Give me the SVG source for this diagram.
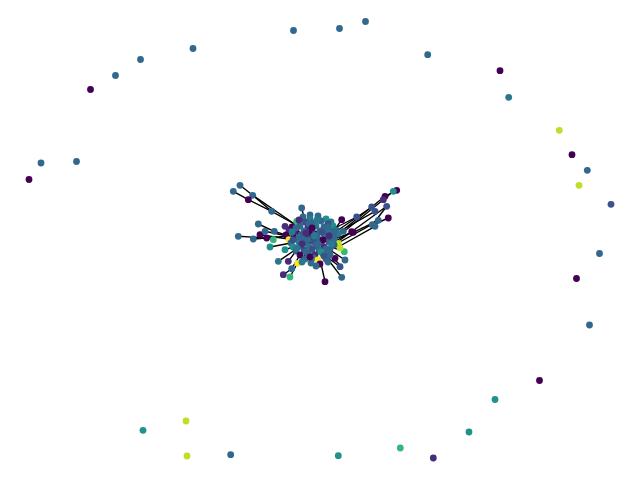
<svg xmlns="http://www.w3.org/2000/svg" width="640" height="480" viewBox="0 0 640 480">
<style>
.e line{stroke:#000;stroke-width:1.4;}
circle{stroke:none}
.c0{fill:#440154}.c1{fill:#472c7a}.c2{fill:#3b518b}.c3{fill:#31688e}.c4{fill:#2a788e}.c5{fill:#21918c}.c6{fill:#35b779}.c7{fill:#6ece58}.c8{fill:#bddf26}.c9{fill:#fde725}
</style>
<rect width="640" height="480" fill="#fff"/>
<g id="edges" class="e">
<line x1="240" y1="185.3" x2="252.7" y2="195.3"/>
<line x1="252.7" y1="195.3" x2="271.7" y2="211.3"/>
<line x1="233.3" y1="191.3" x2="248.3" y2="199.7"/>
<line x1="248.3" y1="199.7" x2="271.7" y2="211.3"/>
<line x1="271.7" y1="211.3" x2="298" y2="226"/>
<line x1="252.7" y1="195.3" x2="296" y2="225"/>
<line x1="238.3" y1="236.3" x2="266.7" y2="238"/>
<line x1="253.3" y1="239" x2="290" y2="236"/>
<line x1="258.3" y1="224" x2="274.3" y2="231.3"/>
<line x1="265" y1="231.3" x2="292" y2="237"/>
<line x1="274.3" y1="231.3" x2="296" y2="238"/>
<line x1="260" y1="234.7" x2="288" y2="239"/>
<line x1="270" y1="247" x2="291" y2="243"/>
<line x1="278.3" y1="261.3" x2="295" y2="250"/>
<line x1="283.3" y1="274.7" x2="291.7" y2="268.7"/>
<line x1="291.7" y1="268.7" x2="300" y2="255"/>
<line x1="290" y1="277" x2="298" y2="262"/>
<line x1="288.3" y1="261.3" x2="296" y2="251"/>
<line x1="285" y1="249.7" x2="293" y2="247"/>
<line x1="285" y1="226.3" x2="296" y2="230"/>
<line x1="301.7" y1="208" x2="305" y2="222"/>
<line x1="310" y1="215" x2="313" y2="230"/>
<line x1="325" y1="281.7" x2="320" y2="259"/>
<line x1="341.7" y1="277.3" x2="327" y2="258"/>
<line x1="340" y1="266.7" x2="323" y2="254"/>
<line x1="343" y1="268" x2="330" y2="255"/>
<line x1="345" y1="260" x2="330" y2="250"/>
<line x1="335" y1="258.3" x2="320" y2="250"/>
<line x1="297.7" y1="263.3" x2="305" y2="255"/>
<line x1="396.7" y1="190.3" x2="385" y2="196.3"/>
<line x1="393.3" y1="191.3" x2="383.3" y2="199.7"/>
<line x1="385" y1="196.3" x2="338" y2="234"/>
<line x1="383.3" y1="199.7" x2="336" y2="238"/>
<line x1="386.7" y1="206.3" x2="336" y2="243"/>
<line x1="371.7" y1="207" x2="331" y2="235"/>
<line x1="375" y1="211.3" x2="336.7" y2="233"/>
<line x1="386.7" y1="206.3" x2="373.3" y2="223.7"/>
<line x1="356.7" y1="217" x2="331" y2="230"/>
<line x1="388.3" y1="218" x2="375" y2="224"/>
<line x1="378.3" y1="220.3" x2="353.3" y2="232.3"/>
<line x1="353.3" y1="232.3" x2="334" y2="239"/>
<line x1="373.3" y1="223.7" x2="338" y2="243"/>
<line x1="375" y1="226.3" x2="340" y2="246"/>
<line x1="341.7" y1="219.7" x2="331" y2="235"/>
<line x1="351.7" y1="231.7" x2="334" y2="242"/>
<line x1="343.3" y1="231.3" x2="326" y2="238"/>
<line x1="344.3" y1="251.7" x2="329" y2="246"/>
<line x1="296" y1="230" x2="326" y2="247"/>
<line x1="304" y1="250" x2="324" y2="227"/>
<line x1="289" y1="231" x2="318" y2="255"/>
<line x1="301" y1="235" x2="336" y2="243"/>
<line x1="294" y1="234" x2="320" y2="231"/>
</g>
<g id="nodes">
<g id="o1"><circle class="c3" cx="293.5" cy="30.5" r="3.4"/></g>
<g id="o2"><circle class="c3" cx="339.5" cy="28.5" r="3.4"/></g>
<g id="o3"><circle class="c3" cx="365.5" cy="21.5" r="3.4"/></g>
<g id="o4"><circle class="c3" cx="193" cy="48.5" r="3.4"/></g>
<g id="o5"><circle class="c3" cx="140.5" cy="59.5" r="3.4"/></g>
<g id="o6"><circle class="c3" cx="115.5" cy="75.5" r="3.4"/></g>
<g id="o7"><circle class="c0" cx="90.5" cy="89.5" r="3.4"/></g>
<g id="o8"><circle class="c3" cx="41" cy="163" r="3.4"/></g>
<g id="o9"><circle class="c3" cx="76.5" cy="161.5" r="3.4"/></g>
<g id="o10"><circle class="c0" cx="29" cy="179.5" r="3.4"/></g>
<g id="o11"><circle class="c3" cx="427.7" cy="54.7" r="3.4"/></g>
<g id="o12"><circle class="c0" cx="500" cy="70.7" r="3.4"/></g>
<g id="o13"><circle class="c4" cx="508.7" cy="97.3" r="3.4"/></g>
<g id="o14"><circle class="c8" cx="559.3" cy="130.3" r="3.4"/></g>
<g id="o15"><circle class="c0" cx="572" cy="154.7" r="3.4"/></g>
<g id="o16"><circle class="c3" cx="587.3" cy="170.3" r="3.4"/></g>
<g id="o17"><circle class="c8" cx="579" cy="185.3" r="3.4"/></g>
<g id="o18"><circle class="c2" cx="611" cy="204.3" r="3.4"/></g>
<g id="o19"><circle class="c3" cx="599.5" cy="253.5" r="3.4"/></g>
<g id="o20"><circle class="c0" cx="576.5" cy="278.5" r="3.4"/></g>
<g id="o21"><circle class="c3" cx="589.5" cy="325" r="3.4"/></g>
<g id="o22"><circle class="c0" cx="539.5" cy="380.5" r="3.4"/></g>
<g id="o23"><circle class="c5" cx="495" cy="399.5" r="3.4"/></g>
<g id="o24"><circle class="c5" cx="469" cy="432" r="3.4"/></g>
<g id="o25"><circle class="c1" cx="433.3" cy="458" r="3.4"/></g>
<g id="o26"><circle class="c6" cx="400.3" cy="448" r="3.4"/></g>
<g id="o27"><circle class="c5" cx="338.3" cy="455.7" r="3.4"/></g>
<g id="o28"><circle class="c3" cx="230.7" cy="454.7" r="3.4"/></g>
<g id="o29"><circle class="c8" cx="186" cy="421" r="3.4"/></g>
<g id="o30"><circle class="c8" cx="187" cy="456" r="3.4"/></g>
<g id="o31"><circle class="c5" cx="143" cy="430.3" r="3.4"/></g>

<g id="a1"><circle class="c3" cx="240" cy="185.3" r="3.4"/></g>
<g id="a2"><circle class="c3" cx="233.3" cy="191.3" r="3.4"/></g>
<g id="a3"><circle class="c3" cx="252.7" cy="195.3" r="3.4"/></g>
<g id="a4"><circle class="c0" cx="248.3" cy="199.7" r="3.4"/></g>
<g id="a5"><circle class="c3" cx="271.7" cy="211.3" r="3.4"/></g>
<g id="l1"><circle class="c3" cx="238.3" cy="236.3" r="3.4"/></g>
<g id="l2"><circle class="c3" cx="253.3" cy="239" r="3.4"/></g>
<g id="l3"><circle class="c3" cx="258.3" cy="224" r="3.4"/></g>
<g id="l4"><circle class="c0" cx="260" cy="234.7" r="3.4"/></g>
<g id="l5"><circle class="c3" cx="265" cy="231.3" r="3.4"/></g>
<g id="l6"><circle class="c0" cx="266.7" cy="238" r="3.4"/></g>
<g id="l7"><circle class="c3" cx="274.3" cy="231.3" r="3.4"/></g>
<g id="l8"><circle class="c6" cx="273.3" cy="239.7" r="3.4"/></g>
<g id="l9"><circle class="c5" cx="270" cy="247" r="3.4"/></g>
<g id="l10"><circle class="c4" cx="278.3" cy="261.3" r="3.4"/></g>
<g id="l11"><circle class="c1" cx="283.3" cy="274.7" r="3.4"/></g>
<g id="l12"><circle class="c6" cx="290" cy="277" r="3.4"/></g>
<g id="l13"><circle class="c3" cx="291.7" cy="268.7" r="3.4"/></g>
<g id="l14"><circle class="c1" cx="288.3" cy="261.3" r="3.4"/></g>
<g id="l15"><circle class="c1" cx="285" cy="226.3" r="3.4"/></g>
<g id="l16"><circle class="c5" cx="285" cy="249.7" r="3.4"/></g>
<g id="l17"><circle class="c6" cx="296.7" cy="221.3" r="3.4"/></g>
<g id="l18"><circle class="c3" cx="301.7" cy="208" r="3.4"/></g>
<g id="t1"><circle class="c3" cx="310" cy="215" r="3.4"/></g>
<g id="r1"><circle class="c0" cx="396.7" cy="190.3" r="3.4"/></g>
<g id="r2"><circle class="c5" cx="393.3" cy="191.3" r="3.4"/></g>
<g id="r3"><circle class="c0" cx="385" cy="196.3" r="3.4"/></g>
<g id="r4"><circle class="c1" cx="383.3" cy="199.7" r="3.4"/></g>
<g id="r5"><circle class="c2" cx="386.7" cy="206.3" r="3.4"/></g>
<g id="r6"><circle class="c2" cx="371.7" cy="207" r="3.4"/></g>
<g id="r7"><circle class="c2" cx="375" cy="211.3" r="3.4"/></g>
<g id="r8"><circle class="c2" cx="356.7" cy="217" r="3.4"/></g>
<g id="r9"><circle class="c0" cx="388.3" cy="218" r="3.4"/></g>
<g id="r10"><circle class="c3" cx="378.3" cy="220.3" r="3.4"/></g>
<g id="r11"><circle class="c3" cx="372.3" cy="224.7" r="3.4"/></g>
<g id="r12"><circle class="c3" cx="375" cy="226.3" r="3.4"/></g>
<g id="r13"><circle class="c0" cx="353.3" cy="232.3" r="3.4"/></g>
<g id="r14"><circle class="c0" cx="341.7" cy="219.7" r="3.4"/></g>
<g id="r15"><circle class="c0" cx="351.7" cy="231.7" r="3.4"/></g>
<g id="r16"><circle class="c3" cx="343.3" cy="231.3" r="3.4"/></g>
<g id="r17"><circle class="c8" cx="338.3" cy="243.3" r="3.4"/></g>
<g id="r18"><circle class="c6" cx="344.3" cy="251.7" r="3.4"/></g>
<g id="r19"><circle class="c3" cx="345" cy="260" r="3.4"/></g>
<g id="r20"><circle class="c0" cx="335" cy="258.3" r="3.4"/></g>
<g id="r21"><circle class="c2" cx="340" cy="266.7" r="3.4"/></g>
<g id="r22"><circle class="c3" cx="341.7" cy="277.3" r="3.4"/></g>
<g id="r23"><circle class="c0" cx="325" cy="281.7" r="3.4"/></g>
<g id="r24"><circle class="c8" cx="340" cy="248" r="3.4"/></g>
<g id="b0"><circle class="c9" cx="297.7" cy="263.3" r="3.4"/></g>

<g id="m1"><circle class="c3" cx="303" cy="217" r="3.4"/></g>
<g id="m2"><circle class="c4" cx="310" cy="219" r="3.4"/></g>
<g id="m3"><circle class="c3" cx="318" cy="216" r="3.4"/></g>
<g id="m4"><circle class="c5" cx="326" cy="219" r="3.4"/></g>
<g id="m5"><circle class="c6" cx="297" cy="223" r="3.4"/></g>
<g id="m6"><circle class="c2" cx="305" cy="222" r="3.4"/></g>
<g id="m7"><circle class="c3" cx="313" cy="223" r="3.4"/></g>
<g id="m8"><circle class="c3" cx="321" cy="221" r="3.4"/></g>
<g id="m9"><circle class="c4" cx="331" cy="222" r="3.4"/></g>
<g id="m10"><circle class="c0" cx="292" cy="227" r="3.4"/></g>
<g id="m11"><circle class="c3" cx="300" cy="226" r="3.4"/></g>
<g id="m12"><circle class="c1" cx="308" cy="227" r="3.4"/></g>
<g id="m13"><circle class="c4" cx="316" cy="226" r="3.4"/></g>
<g id="m14"><circle class="c3" cx="324" cy="227" r="3.4"/></g>
<g id="m15"><circle class="c5" cx="333" cy="226" r="3.4"/></g>
<g id="m16"><circle class="c1" cx="289" cy="231" r="3.4"/></g>
<g id="m17"><circle class="c0" cx="296" cy="230" r="3.4"/></g>
<g id="m18"><circle class="c3" cx="304" cy="231" r="3.4"/></g>
<g id="m19"><circle class="c2" cx="312" cy="230" r="3.4"/></g>
<g id="m20"><circle class="c3" cx="320" cy="231" r="3.4"/></g>
<g id="m21"><circle class="c4" cx="328" cy="230" r="3.4"/></g>
<g id="m22"><circle class="c3" cx="336" cy="230" r="3.4"/></g>
<g id="m23"><circle class="c0" cx="286" cy="235" r="3.4"/></g>
<g id="m24"><circle class="c1" cx="294" cy="234" r="3.4"/></g>
<g id="m25"><circle class="c2" cx="301" cy="235" r="3.4"/></g>
<g id="m26"><circle class="c0" cx="309" cy="234" r="3.4"/></g>
<g id="m27"><circle class="c3" cx="317" cy="235" r="3.4"/></g>
<g id="m28"><circle class="c3" cx="324" cy="234" r="3.4"/></g>
<g id="m29"><circle class="c2" cx="331" cy="235" r="3.4"/></g>
<g id="m30"><circle class="c4" cx="338" cy="234" r="3.4"/></g>
<g id="m31"><circle class="c9" cx="289" cy="239.7" r="3.4"/></g>
<g id="m32"><circle class="c0" cx="296" cy="238" r="3.4"/></g>
<g id="m33"><circle class="c3" cx="303" cy="239" r="3.4"/></g>
<g id="m34"><circle class="c1" cx="311" cy="238" r="3.4"/></g>
<g id="m35"><circle class="c3" cx="318" cy="239" r="3.4"/></g>
<g id="m36"><circle class="c4" cx="326" cy="238" r="3.4"/></g>
<g id="m37"><circle class="c3" cx="334" cy="239" r="3.4"/></g>
<g id="m38"><circle class="c3" cx="291" cy="243" r="3.4"/></g>
<g id="m39"><circle class="c4" cx="299" cy="242" r="3.4"/></g>
<g id="m40"><circle class="c3" cx="306" cy="243" r="3.4"/></g>
<g id="m41"><circle class="c2" cx="314" cy="242" r="3.4"/></g>
<g id="m42"><circle class="c4" cx="321" cy="243" r="3.4"/></g>
<g id="m43"><circle class="c3" cx="329" cy="242" r="3.4"/></g>
<g id="m44"><circle class="c2" cx="334" cy="245" r="3.4"/></g>
<g id="m45"><circle class="c5" cx="293" cy="247" r="3.4"/></g>
<g id="m46"><circle class="c3" cx="301" cy="246" r="3.4"/></g>
<g id="m47"><circle class="c4" cx="309" cy="247" r="3.4"/></g>
<g id="m48"><circle class="c3" cx="316" cy="246" r="3.4"/></g>
<g id="m49"><circle class="c1" cx="324" cy="247" r="3.4"/></g>
<g id="m50"><circle class="c3" cx="330" cy="249" r="3.4"/></g>
<g id="m51"><circle class="c3" cx="296" cy="251" r="3.4"/></g>
<g id="m52"><circle class="c2" cx="304" cy="250" r="3.4"/></g>
<g id="m53"><circle class="c6" cx="311" cy="251" r="3.4"/></g>
<g id="m54"><circle class="c3" cx="319" cy="250" r="3.4"/></g>
<g id="m55"><circle class="c4" cx="327" cy="252" r="3.4"/></g>
<g id="m56"><circle class="c0" cx="300" cy="255" r="3.4"/></g>
<g id="m57"><circle class="c3" cx="308" cy="254" r="3.4"/></g>
<g id="m58"><circle class="c1" cx="315" cy="255" r="3.4"/></g>
<g id="m59"><circle class="c3" cx="323" cy="254" r="3.4"/></g>
<g id="m60"><circle class="c3" cx="330" cy="255" r="3.4"/></g>
<g id="m61"><circle class="c3" cx="305" cy="259" r="3.4"/></g>
<g id="m62"><circle class="c4" cx="313" cy="258" r="3.4"/></g>
<g id="m63"><circle class="c9" cx="318" cy="260" r="3.4"/></g>
<g id="m64"><circle class="c3" cx="326" cy="259" r="3.4"/></g>
<g id="m65"><circle class="c0" cx="320" cy="264" r="3.4"/></g>
<g id="m66"><circle class="c3" cx="311" cy="263" r="3.4"/></g>
<g id="n1"><circle class="c1" cx="299" cy="220" r="3.4"/></g>
<g id="n2"><circle class="c4" cx="317" cy="220" r="3.4"/></g>
<g id="n3"><circle class="c3" cx="309" cy="224" r="3.4"/></g>
<g id="n4"><circle class="c2" cx="328" cy="224" r="3.4"/></g>
<g id="n5"><circle class="c3" cx="296" cy="228" r="3.4"/></g>
<g id="n6"><circle class="c0" cx="312" cy="228" r="3.4"/></g>
<g id="n7"><circle class="c3" cx="328" cy="227" r="3.4"/></g>
<g id="n8"><circle class="c4" cx="292" cy="232" r="3.4"/></g>
<g id="n9"><circle class="c1" cx="306" cy="233" r="3.4"/></g>
<g id="n10"><circle class="c2" cx="322" cy="232" r="3.4"/></g>
<g id="n11"><circle class="c3" cx="334" cy="233" r="3.4"/></g>
<g id="n12"><circle class="c3" cx="299" cy="237" r="3.4"/></g>
<g id="n13"><circle class="c4" cx="314" cy="236" r="3.4"/></g>
<g id="n14"><circle class="c1" cx="329" cy="236" r="3.4"/></g>
<g id="n15"><circle class="c2" cx="293" cy="240" r="3.4"/></g>
<g id="n16"><circle class="c3" cx="308" cy="240" r="3.4"/></g>
<g id="n17"><circle class="c0" cx="323" cy="240" r="3.4"/></g>
<g id="n18"><circle class="c1" cx="302" cy="244" r="3.4"/></g>
<g id="n19"><circle class="c3" cx="318" cy="244" r="3.4"/></g>
<g id="n20"><circle class="c4" cx="332" cy="244" r="3.4"/></g>
<g id="n21"><circle class="c4" cx="297" cy="248" r="3.4"/></g>
<g id="n22"><circle class="c2" cx="312" cy="249" r="3.4"/></g>
<g id="n23"><circle class="c3" cx="326" cy="249" r="3.4"/></g>
<g id="n24"><circle class="c3" cx="306" cy="252" r="3.4"/></g>
<g id="n25"><circle class="c5" cx="321" cy="252" r="3.4"/></g>
<g id="n26"><circle class="c0" cx="310" cy="257" r="3.4"/></g>
<g id="n27"><circle class="c2" cx="324" cy="256" r="3.4"/></g>
<g id="n28"><circle class="c3" cx="316" cy="266" r="3.4"/></g>
<g id="n29"><circle class="c3" cx="328" cy="262" r="3.4"/></g>
<g id="n30"><circle class="c4" cx="302" cy="262" r="3.4"/></g>
</g>
</svg>
